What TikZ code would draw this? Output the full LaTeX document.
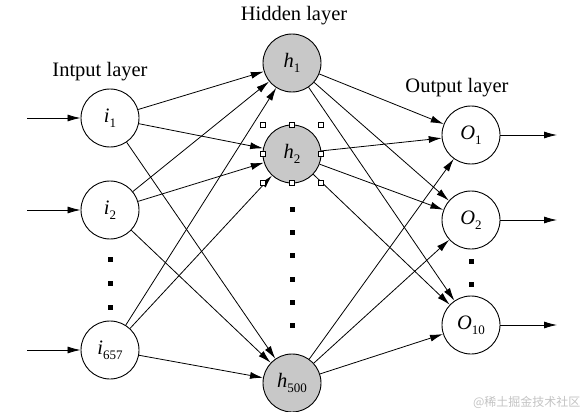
\documentclass[tikz,border=0pt]{standalone}
\usepackage{fontspec}
\setmainfont{Liberation Serif}
\newfontfamily\cjkwm{Noto Sans CJK SC}
\usetikzlibrary{arrows.meta}
\definecolor{hgray}{RGB}{200,200,200}
\definecolor{wmgray}{RGB}{195,195,195}
\newcommand\nlab[2]{\textit{#1}\raisebox{-0.5ex}{\fontsize{13}{13}\selectfont #2}}
\begin{document}
\begin{tikzpicture}[x=1pt,y=-1pt,
  neuron/.style={circle,draw,line width=0.9pt,minimum size=58pt,inner sep=0pt,fill=white,font=\fontsize{20.5}{21}\selectfont},
  hid/.style={neuron,fill=hgray},
  conn/.style={line width=0.8pt,-{Latex[length=13pt,width=7pt]}},
  layerlab/.style={anchor=base,font=\fontsize{20.5}{21}\selectfont},
  dotsq/.style={fill=black,minimum size=5pt,inner sep=0pt,rectangle},
  handle/.style={draw,fill=white,line width=0.5pt,minimum size=5pt,inner sep=0pt,rectangle}]
\useasboundingbox (0,0) rectangle (587,412);
% layer labels
\node[layerlab] (labin) at (100,77) {Intput layer};
\node[layerlab] (labhid) at (294,21) {Hidden layer};
\node[layerlab] (labout) at (457,93) {Output layer};
% input neurons
\node[neuron] (i1) at (110,118) {\nlab{i}{1}};
\node[neuron] (i2) at (110,210) {\nlab{i}{2}};
\node[neuron] (i3) at (110,350) {\nlab{i}{657}};
% hidden neurons
\node[hid] (h1) at (292,63) {\nlab{h}{1}};
\node[hid] (h2) at (292,154) {\nlab{h}{2}};
\node[hid] (h3) at (292,383) {\nlab{h}{500}};
% output neurons
\node[neuron] (o1) at (471,135) {\nlab{O}{1}};
\node[neuron] (o2) at (471,220) {\nlab{O}{2}};
\node[neuron] (o3) at (471,325) {\nlab{O}{10}};
% dots
\foreach \y [count=\k] in {259,283,307} \node[dotsq] (di\k) at (110,\y) {};
\foreach \y [count=\k] in {209,232,255,279,302,325} \node[dotsq] (dh\k) at (292,\y) {};
\foreach \y [count=\k] in {261,284} \node[dotsq] (do\k) at (471,\y) {};
% input/output arrows
\coordinate (a1) at (27,118);
\coordinate (a2) at (27,210);
\coordinate (a3) at (27,350);
\coordinate (b1) at (557,135);
\coordinate (b2) at (557,220);
\coordinate (b3) at (557,325);
\foreach \k in {1,2,3} {
  \draw[conn] (a\k) -- (i\k);
  \draw[conn] (o\k) -- (b\k);
}
% connections
\foreach \s in {1,2,3} \foreach \t in {1,2,3} {
  \draw[conn] (i\s) -- (h\t);
  \draw[conn] (h\s) -- (o\t);
}
% selection handles around h2
\foreach \x/\y [count=\k] in {263/125,292/125,321/125,263/154,321/154,263/183,292/183,321/183}
  \node[handle] (hd\k) at (\x,\y) {};
% watermark
\node[anchor=base east,text=wmgray,font=\cjkwm\fontsize{12}{12}\selectfont] (wm) at (584,406) {@稀土掘金技术社区};
\end{tikzpicture}
\end{document}
